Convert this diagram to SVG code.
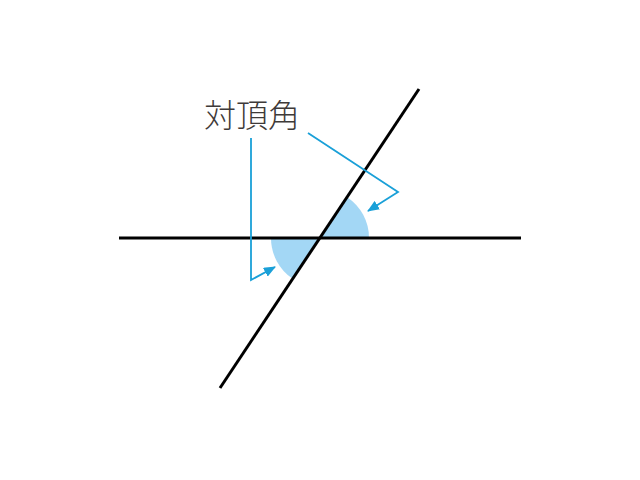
<svg xmlns="http://www.w3.org/2000/svg" width="640" height="480" viewBox="0 0 640 480">
<defs>
<style>
.ln{stroke:#000;stroke-width:3;fill:none}
.ld{stroke:#1aa0d8;stroke-width:1.8;fill:none}
.sec{fill:#a3d7f5;stroke:none}
.lbl{font-family:"Noto Sans CJK JP","Noto Sans CJK SC",sans-serif;font-size:32px;font-weight:300;fill:#3e3a39}
</style>
<marker id="ah2" viewBox="0 0 12 10" refX="11" refY="5" markerWidth="12" markerHeight="10" orient="auto" markerUnits="userSpaceOnUse">
<path d="M0,0 L12,5 L0,10 Z" fill="#1aa0d8"/>
</marker>
</defs>
<g id="angles">
<path class="sec" d="M320,238 L369,238 A49,49 0 0 0 347.2,197.2 Z"/>
<path class="sec" d="M320,238 L271,238 A49,49 0 0 0 292.8,278.8 Z"/>
</g>
<g id="lines">
<line class="ln" x1="119" y1="238" x2="521" y2="238"/>
<line class="ln" x1="220" y1="388" x2="419" y2="89"/>
</g>
<g id="label">
<text class="lbl" x="204" y="127">対頂角</text>
</g>
<g id="connectors">
<polyline class="ld" points="251,138 251,280 275,267" marker-end="url(#ah2)"/>
<polyline class="ld" points="308,133 398,192 368,211" marker-end="url(#ah2)"/>
</g>
</svg>
